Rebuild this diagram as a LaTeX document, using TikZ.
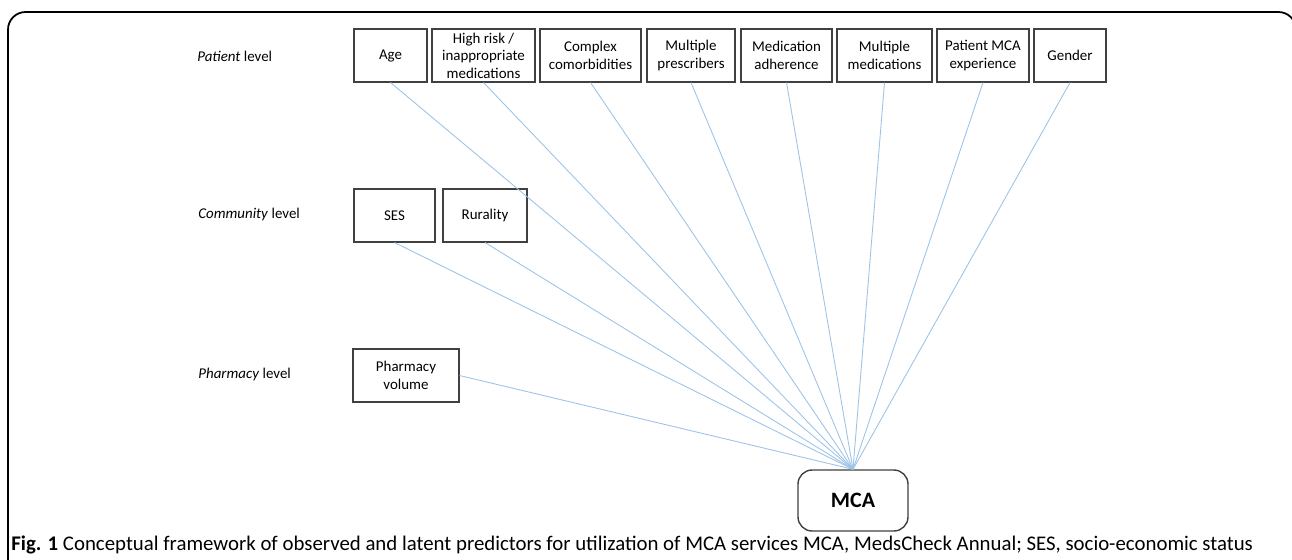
\documentclass[tikz,border=0pt]{standalone}
\usepackage{fontspec}
\setmainfont{Carlito}
\definecolor{linkblue}{RGB}{157,195,230}
\definecolor{boxgray}{RGB}{64,64,64}
\tikzset{
  factor/.style={draw=boxgray, line width=0.6pt, align=center, inner sep=0pt,
    minimum height=1.06cm, font=\fontsize{8.5}{10}\selectfont},
  levellabel/.style={anchor=west, inner sep=0pt, font=\fontsize{8.5}{10}\selectfont},
  link/.style={draw=linkblue, line width=0.5pt}
}
\begin{document}
\begin{tikzpicture}[x=0.02cm, y=-0.02cm]
  \useasboundingbox (0, 0) rectangle (1292, 559);
  \begin{scope}
    \clip (0, 0) rectangle (1292, 559);
    \draw[line width=1pt, rounded corners=10] (8, 12) rectangle (1296, 620);
  \end{scope}

  \node[levellabel] (lpatient) at (197, 56) {\textit{Patient} level};
  \node[levellabel] (lcommunity) at (198, 215) {\textit{Community} level};
  \node[levellabel] (lpharmacy) at (198, 375) {\textit{Pharmacy} level};

  \node[factor, minimum width=1.46cm] (age) at (390.5, 55.5) {Age};
  \node[factor, minimum width=2.06cm] (risk) at (483.5, 55.5) {High risk /\\inappropriate\\medications};
  \node[factor, minimum width=2.02cm] (comorb) at (590.5, 55.5) {Complex\\comorbidities};
  \node[factor, minimum width=1.76cm] (prescr) at (691, 55.5) {Multiple\\prescribers};
  \node[factor, minimum width=1.82cm] (adher) at (786.5, 55.5) {Medication\\adherence};
  \node[factor, minimum width=1.90cm] (meds) at (884.5, 55.5) {Multiple\\medications};
  \node[factor, minimum width=1.84cm] (exper) at (983, 55.5) {Patient MCA\\experience};
  \node[factor, minimum width=1.44cm] (gender) at (1070, 55.5) {Gender};

  \node[factor, minimum width=1.62cm] (ses) at (394.5, 215.5) {SES};
  \node[factor, minimum width=1.68cm] (rural) at (485, 215.5) {Rurality};

  \node[factor, minimum width=2.12cm] (volume) at (406, 375.5) {Pharmacy\\volume};

  \node[draw=boxgray, line width=0.8pt, rounded corners=8, minimum width=2.2cm,
    minimum height=1.22cm, font=\fontsize{12.5}{15}\selectfont\bfseries] (mca) at (853, 500.5) {MCA};

  \draw[link] (age.south) -- (mca.north);
  \draw[link] (risk.south) -- (mca.north);
  \draw[link] (comorb.south) -- (mca.north);
  \draw[link] (prescr.south) -- (mca.north);
  \draw[link] (adher.south) -- (mca.north);
  \draw[link] (meds.south) -- (mca.north);
  \draw[link] (exper.south) -- (mca.north);
  \draw[link] (gender.south) -- (mca.north);
  \draw[link] (ses.south) -- (mca.north);
  \draw[link] (rural.south) -- (mca.north);
  \draw[link] (volume.east) -- (mca.north);

  \node[anchor=base west, inner sep=0pt, font=\fontsize{11.85}{14}\selectfont] (caption) at (11, 550)
    {\textbf{Fig. 1} Conceptual framework of observed and latent predictors for utilization of MCA services MCA, MedsCheck Annual; SES, socio-economic status};
\end{tikzpicture}
\end{document}
